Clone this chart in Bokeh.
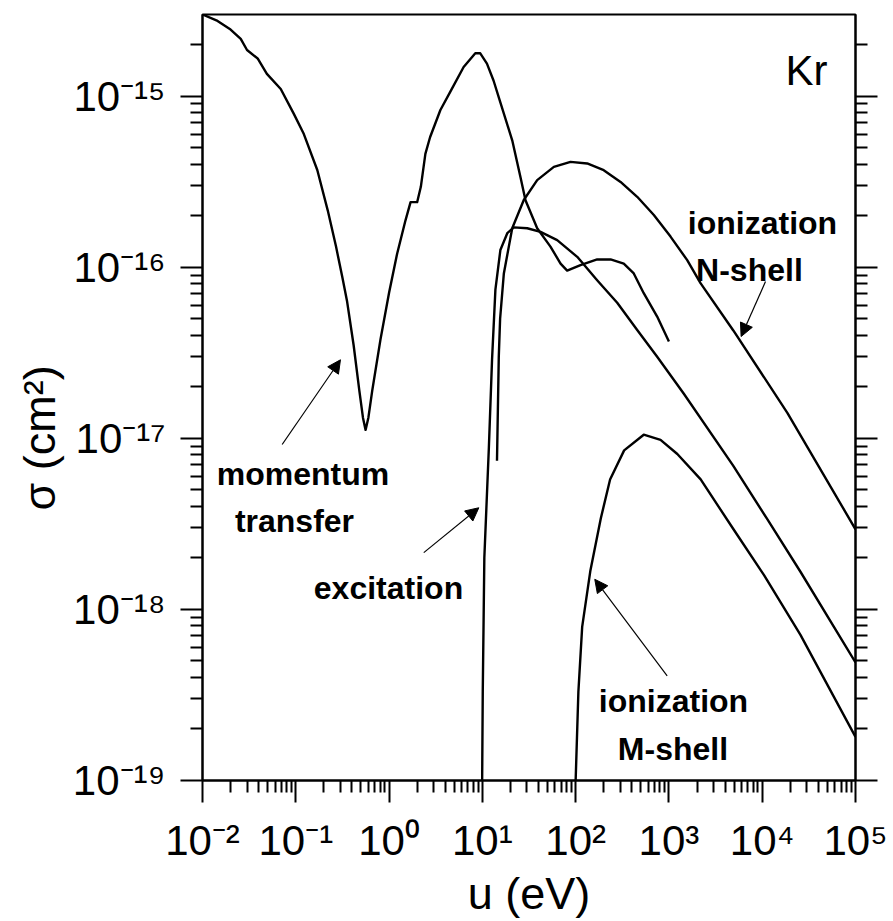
from bokeh.embed import file_html
from bokeh.models import (Arrow, FixedTicker, Label, LogAxis, NormalHead,
                          Range1d, Title)
from bokeh.plotting import figure
from bokeh.resources import INLINE

# ---- cross sections of krypton (energy in eV, sigma in cm^2) ----
mt_energy = [0.010, 0.0145, 0.020, 0.0257, 0.030, 0.039, 0.049, 0.069, 0.095,
             0.122, 0.17, 0.22, 0.27, 0.316, 0.355, 0.417, 0.48, 0.525, 0.56,
             0.60, 0.66, 0.81, 1.0, 1.22, 1.5, 1.70, 2.0, 2.19, 2.45, 2.75,
             3.55, 4.57, 6.3, 8.4, 9.5, 11.2, 13.2, 15.5, 20.9, 25.6, 29.0,
             38.7, 53.7, 68.9, 81.1, 112.7, 170, 237, 328, 420, 537, 748, 1000]
mt_sigma = [3.0e-15, 2.75e-15, 2.45e-15, 2.16e-15, 1.86e-15, 1.66e-15,
            1.35e-15, 1.10e-15, 7.9e-16, 6.0e-16, 3.7e-16, 2.15e-16, 1.32e-16,
            8.7e-17, 6.3e-17, 3.5e-17, 1.9e-17, 1.32e-17, 1.12e-17, 1.32e-17,
            1.9e-17, 3.8e-17, 7.1e-17, 1.2e-16, 1.88e-16, 2.4e-16, 2.4e-16,
            2.95e-16, 4.6e-16, 5.75e-16, 8.3e-16, 1.07e-15, 1.48e-15, 1.78e-15,
            1.78e-15, 1.55e-15, 1.23e-15, 9.3e-16, 5.52e-16, 3.37e-16,
            2.46e-16, 1.69e-16, 1.32e-16, 1.05e-16, 9.55e-17, 1.03e-16,
            1.11e-16, 1.11e-16, 1.05e-16, 9.2e-17, 7.05e-17, 5.15e-17, 3.68e-17]

exc_energy = [9.95, 10.1, 10.5, 11.75, 12.7, 13.8, 15.6, 18.5, 21.7, 30.3,
              42.0, 63.4, 104, 170, 279, 457, 748, 1445, 4900, 11200, 25700,
              100000]
exc_sigma = [1.0e-19, 3.3e-19, 2.0e-18, 8.9e-18, 2.88e-17, 7.4e-17, 1.26e-16,
             1.58e-16, 1.71e-16, 1.69e-16, 1.61e-16, 1.44e-16, 1.15e-16,
             8.4e-17, 6.2e-17, 4.3e-17, 3.0e-17, 1.82e-17, 6.9e-18, 3.4e-18,
             1.66e-18, 4.9e-19]

ion_n_energy = [14.35, 15.0, 15.5, 17.0, 20.9, 27.8, 38.7, 58.4, 88.1, 133,
                200, 303, 457, 689, 1040, 1570, 2180, 4900, 18600, 100000]
ion_n_sigma = [7.4e-18, 3.01e-17, 5.0e-17, 9.2e-17, 1.69e-16, 2.47e-16,
               3.23e-16, 3.86e-16, 4.13e-16, 4.04e-16, 3.69e-16, 3.15e-16,
               2.58e-16, 2.02e-16, 1.51e-16, 1.10e-16, 8.07e-17, 4.27e-17,
               1.41e-17, 2.94e-18]

ion_m_energy = [100, 107, 117.5, 144, 186, 234, 331, 537, 813, 1230, 2190,
                4900, 10500, 25700, 100000]
ion_m_sigma = [1.0e-19, 3.3e-19, 7.9e-19, 1.69e-18, 3.4e-18, 5.75e-18,
               8.5e-18, 1.05e-17, 9.8e-18, 8.1e-18, 5.75e-18, 2.95e-18,
               1.58e-18, 7.1e-19, 1.8e-19]

# ---- axes ----
x_exponents = [-2, -1, 0, 1, 2, 3, 4, 5]
y_exponents = [-19, -18, -17, -16, -15]
x_tick_labels = ["10⁻²", "10⁻¹", "10⁰", "10¹", "10²", "10³", "10⁴", "10⁵"]
y_tick_labels = ["10⁻¹⁹", "10⁻¹⁸", "10⁻¹⁷", "10⁻¹⁶", "10⁻¹⁵"]
x_title = "u (eV)"
y_title = "σ (cm²)"
element = "Kr"

FONT = "Liberation Sans"

p = figure(width=893, height=921, x_axis_type="log", y_axis_type="log",
           x_range=Range1d(1e-2, 1e5), y_range=Range1d(1e-19, 3e-15),
           output_backend="svg", toolbar_location=None,
           min_border_left=202, min_border_right=38,
           min_border_top=14, min_border_bottom=139)
p.xgrid.grid_line_color = None
p.ygrid.grid_line_color = None
p.outline_line_color = "black"
p.outline_line_width = 2
p.background_fill_color = "white"
p.border_fill_color = "white"


def minor_list(exps):
    lo, hi = min(exps), max(exps)
    return [m * 10.0 ** k for k in range(lo - 1, hi + 1) for m in range(2, 10)]


def style_axis(ax, exps, labels, standoff):
    ticks = [10.0 ** k for k in exps]
    ax.ticker = FixedTicker(ticks=ticks, minor_ticks=minor_list(exps))
    ax.major_label_overrides = {t: lab for t, lab in zip(ticks, labels)}
    ax.axis_line_width = 2
    ax.axis_line_color = "black"
    ax.major_tick_line_width = 2
    ax.minor_tick_line_width = 2
    ax.major_tick_in = 0
    ax.major_tick_out = 22
    ax.minor_tick_in = 0
    ax.minor_tick_out = 12
    ax.major_label_text_font = FONT
    ax.major_label_text_font_size = "42px"
    ax.major_label_text_color = "black"
    ax.major_label_standoff = standoff


style_axis(p.xaxis[0], x_exponents, x_tick_labels, 14)
style_axis(p.yaxis[0], y_exponents, y_tick_labels, 15)
right_axis = LogAxis()
style_axis(right_axis, y_exponents, ["" for _ in y_exponents], 0)
right_axis.major_label_text_font_size = "1px"
p.add_layout(right_axis, "right")

xax = p.xaxis[0]
xax.axis_label = x_title
xax.axis_label_text_font = FONT
xax.axis_label_text_font_size = "45px"
xax.axis_label_text_font_style = "normal"
xax.axis_label_text_color = "black"
xax.axis_label_standoff = 1

p.add_layout(Title(text=y_title, align="left", offset=270,
                   text_font=FONT, text_font_size="45px",
                   text_font_style="normal", text_color="black",
                   standoff=10), "left")

# ---- curves ----
for xs, ys in [(mt_energy, mt_sigma), (exc_energy, exc_sigma),
               (ion_n_energy, ion_n_sigma), (ion_m_energy, ion_m_sigma)]:
    p.line(xs, ys, line_color="black", line_width=2.4, line_join="round")

# ---- element label ----
p.add_layout(Label(x=10 ** 4.70, y=10 ** -14.853, text=element,
                   text_align="right", text_baseline="alphabetic",
                   text_font=FONT, text_font_size="42px", text_color="black"))

# ---- curve annotations ----
notes = [
    ("ionization", 4.003, -15.742),
    ("N-shell", 3.863, -16.016),
    ("momentum", -0.923, -17.211),
    ("transfer", -1.014, -17.485),
    ("excitation", -0.006, -17.876),
    ("ionization", 3.049, -18.535),
    ("M-shell", 3.043, -18.815),
]
for txt, lx, ly in notes:
    p.add_layout(Label(x=10 ** lx, y=10 ** ly, text=txt, text_align="center",
                       text_baseline="alphabetic", text_font=FONT,
                       text_font_size="32px", text_font_style="bold",
                       text_color="black"))

pointers = [
    ((4.035, -16.084), (3.774, -16.405)),
    ((-1.146, -17.036), (-0.521, -16.541)),
    ((0.372, -17.668), (0.962, -17.406)),
    ((2.981, -18.388), (2.205, -17.824)),
]
for (x0, y0), (x1, y1) in pointers:
    p.add_layout(Arrow(x_start=10 ** x0, y_start=10 ** y0,
                       x_end=10 ** x1, y_end=10 ** y1,
                       line_color="black", line_width=1.2,
                       end=NormalHead(size=13, fill_color="black",
                                      line_color="black", line_width=1)))

open("out.html", "w").write(file_html(p, INLINE))
